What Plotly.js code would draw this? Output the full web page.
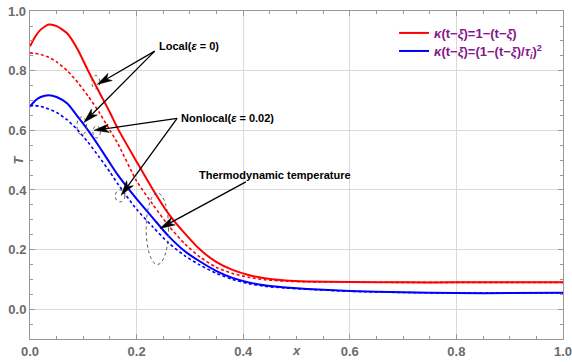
<!DOCTYPE html>
<html>
<head>
<meta charset="utf-8">
<script src="https://cdn.plot.ly/plotly-3.0.1.min.js"></script>
<style>html,body{margin:0;padding:0;background:#fff;}#chart{width:572px;height:362px;}</style>
</head>
<body>
<div id="chart"></div>
<script>
// x positions shared by all series
const xs = [0, 0.01, 0.02, 0.035, 0.05, 0.07, 0.09, 0.109, 0.13, 0.15, 0.165, 0.2, 0.231, 0.26, 0.29, 0.319, 0.35, 0.38, 0.41, 0.44, 0.48, 0.52, 0.6, 0.7, 0.8, 0.9, 1.0];
// Local (eps = 0), kernel 1-(t-xi)
const redLocal = [0.882, 0.915, 0.938, 0.955, 0.95, 0.925, 0.87, 0.80, 0.728, 0.66, 0.605, 0.495, 0.40, 0.32, 0.255, 0.20, 0.158, 0.132, 0.115, 0.104, 0.096, 0.093, 0.091, 0.09, 0.09, 0.09, 0.09];
// Nonlocal (eps = 0.02), kernel 1-(t-xi)
const redNonlocal = [0.86, 0.858, 0.855, 0.845, 0.83, 0.80, 0.76, 0.715, 0.66, 0.60, 0.555, 0.43, 0.35, 0.28, 0.22, 0.175, 0.14, 0.12, 0.107, 0.099, 0.094, 0.092, 0.091, 0.09, 0.09, 0.09, 0.09];
// Local (eps = 0), kernel (1-(t-xi)/tau_i)^2
const blueLocal = [0.68, 0.70, 0.712, 0.718, 0.712, 0.69, 0.645, 0.60, 0.545, 0.49, 0.45, 0.37, 0.305, 0.245, 0.195, 0.16, 0.128, 0.105, 0.09, 0.08, 0.073, 0.068, 0.061, 0.057, 0.054, 0.054, 0.055];
// Nonlocal (eps = 0.02), kernel (1-(t-xi)/tau_i)^2
const blueNonlocal = [0.683, 0.683, 0.68, 0.672, 0.66, 0.635, 0.60, 0.56, 0.51, 0.46, 0.42, 0.335, 0.275, 0.222, 0.18, 0.148, 0.12, 0.1, 0.086, 0.077, 0.071, 0.067, 0.06, 0.056, 0.054, 0.054, 0.055];

const xTicks = [0, 0.2, 0.4, 0.6, 0.8, 1.0];
const yTicks = [0, 0.2, 0.4, 0.6, 0.8, 1.0];
const tickText = ['0.0', '0.2', '0.4', '0.6', '0.8', '1.0'];

const legendRed = '<b><i>κ</i>(t−<i>ξ</i>)=1−(t−<i>ξ</i>)</b>';
const legendBlue = '<b><i>κ</i>(t−<i>ξ</i>)=(1−(t−<i>ξ</i>)/<i>τ<sub>i</sub></i>)<sup>2</sup></b>';

const RED = '#ff0000', BLUE = '#0000ff';
const traces = [
  {x: xs, y: redLocal, mode: 'lines', line: {color: RED, width: 2, shape: 'spline', smoothing: 0.6}, name: legendRed, showlegend: true, legend: 'legend'},
  {x: xs, y: blueLocal, mode: 'lines', line: {color: BLUE, width: 2, shape: 'spline', smoothing: 0.6}, name: legendBlue, showlegend: true, legend: 'legend2'},
  {x: xs, y: redNonlocal, mode: 'lines', line: {color: RED, width: 1.6, dash: '3px,2.5px', shape: 'spline', smoothing: 0.6}, showlegend: false},
  {x: xs, y: blueNonlocal, mode: 'lines', line: {color: BLUE, width: 1.6, dash: '3px,2.5px', shape: 'spline', smoothing: 0.6}, showlegend: false}
];

const W = 572, H = 362, M = {l: 30, r: 9, t: 11, b: 23};
const X_RANGE = [0, 1], Y_RANGE = [-0.1, 1.0005];

const tickFont = {family: 'Liberation Sans, Arial, sans-serif', size: 13, color: '#6b6b6b', weight: 'bold'};
function axis(range, vals) {
  return {
    range: range, tickmode: 'array', tickvals: vals, ticktext: tickText, ticklabeloverflow: 'allow',
    showline: true, linecolor: '#999999', linewidth: 1, mirror: 'allticks',
    ticks: 'inside', ticklen: 5, tickcolor: '#999999', tickwidth: 1,
    showgrid: true, gridcolor: '#d9d9d9', gridwidth: 1, zeroline: false,
    tickfont: tickFont, automargin: false,
    minor: {dtick: 0.05, tick0: 0, ticks: 'inside', ticklen: 3, tickcolor: '#999999', showgrid: false}
  };
}

const annFont = {family: 'Liberation Sans, Arial, sans-serif', size: 11, color: '#000000', weight: 'bold'};
const annotations = [
  {x: 0.238, y: 0.882, xref: 'x', yref: 'y', text: '<b>Local(<i>ε</i> = 0)</b>', showarrow: false, xanchor: 'left', yanchor: 'middle', font: annFont},
  {x: 0.280, y: 0.642, xref: 'x', yref: 'y', text: '<b>Nonlocal(<i>ε</i> = 0.02)</b>', showarrow: false, xanchor: 'left', yanchor: 'middle', font: annFont},
  {x: 0.313, y: 0.45, xref: 'x', yref: 'y', text: '<b>Thermodynamic temperature</b>', showarrow: false, xanchor: 'left', yanchor: 'middle', font: annFont},
  {x: 0.5, y: -0.0356, xref: 'x', yref: 'paper', text: '<b><i>x</i></b>', showarrow: false, xanchor: 'center', yanchor: 'middle',
    font: {family: 'Liberation Sans, Arial, sans-serif', size: 13, color: '#6b6b6b'}},
  {x: -0.022, y: 0.5, xref: 'paper', yref: 'y', text: '<b><i>T</i></b>', showarrow: false, textangle: -90, xanchor: 'center', yanchor: 'middle',
    font: {family: 'Liberation Sans, Arial, sans-serif', size: 13, color: '#6b6b6b'}},
  // top y tick label, which Plotly drops at the frame edge
  {x: 0, y: yTicks[5], xref: 'paper', yref: 'y', xshift: -3, text: tickText[5], showarrow: false,
    xanchor: 'right', yanchor: 'middle', borderpad: 0, font: tickFont}
];

// pointer arrows drawn as shapes: a line plus a pixel-sized arrowhead anchored at the tip
const sx = (W - M.l - M.r) / (X_RANGE[1] - X_RANGE[0]);
const sy = (H - M.t - M.b) / (Y_RANGE[1] - Y_RANGE[0]);
function arrowShapes(hx, hy, tx, ty) {
  const dx = (hx - tx) * sx, dy = (hy - ty) * sy;
  const n = Math.hypot(dx, dy), ux = dx / n, uy = dy / n, px = -uy, py = ux;
  const L = 15, Wd = 4.2, N = 11;
  const c1 = [-L * ux + Wd * px, -L * uy + Wd * py];
  const c2 = [-L * ux - Wd * px, -L * uy - Wd * py];
  const nb = [-N * ux, -N * uy];
  const f = v => v.toFixed(2);
  return [
    {type: 'line', xref: 'x', yref: 'y', x0: tx, y0: ty, x1: hx - (N / sx) * ux, y1: hy - (N / sy) * uy,
      line: {color: '#000000', width: 1.3}},
    {type: 'path', xref: 'x', yref: 'y', xsizemode: 'pixel', ysizemode: 'pixel', xanchor: hx, yanchor: hy,
      path: `M0,0 L${f(c1[0])},${f(c1[1])} L${f(nb[0])},${f(nb[1])} L${f(c2[0])},${f(c2[1])} Z`,
      fillcolor: '#000000', line: {color: '#000000', width: 0.5}}
  ];
}

const ell = (x0, x1, y0, y1) => ({type: 'circle', xref: 'x', yref: 'y', x0: x0, x1: x1, y0: y0, y1: y1,
  line: {color: '#555555', width: 1, dash: 'dot'}});
const shapes = [
  ell(0.116, 0.131, 0.739, 0.784),
  ell(0.088, 0.106, 0.585, 0.645),
  ell(0.118, 0.132, 0.575, 0.615),
  ell(0.160, 0.178, 0.36, 0.40),
  ell(0.218, 0.260, 0.15, 0.39)
].concat(
  arrowShapes(0.126, 0.754, 0.234, 0.866),
  arrowShapes(0.101, 0.626, 0.234, 0.866),
  arrowShapes(0.120, 0.600, 0.276, 0.640),
  arrowShapes(0.171, 0.382, 0.276, 0.640),
  arrowShapes(0.244, 0.271, 0.405, 0.427)
);

const legendFont = {family: 'Liberation Sans, Arial, sans-serif', size: 13, color: '#84188a'};
const legendBase = {x: 0.683, xanchor: 'left', yanchor: 'middle', bgcolor: 'rgba(0,0,0,0)', borderwidth: 0,
  font: legendFont, itemwidth: 30, tracegroupgap: 0};

const layout = {
  width: W, height: H,
  margin: {l: M.l, r: M.r, t: M.t, b: M.b, pad: 0},
  paper_bgcolor: '#ffffff', plot_bgcolor: '#ffffff',
  xaxis: axis(X_RANGE, xTicks),
  yaxis: axis(Y_RANGE, yTicks),
  showlegend: true,
  legend: Object.assign({y: 0.933}, legendBase),
  legend2: Object.assign({y: 0.878}, legendBase),
  annotations: annotations,
  shapes: shapes
};

Plotly.newPlot('chart', traces, layout, {staticPlot: true, displayModeBar: false}).then(gd => {
  // avoid a doubled top label: hide Plotly's own 1.0 y tick text, the annotation stands in for it
  gd.querySelectorAll('.ytick text').forEach(t => {
    if (t.textContent === tickText[5]) t.style.display = 'none';
  });
});
</script>
</body>
</html>
